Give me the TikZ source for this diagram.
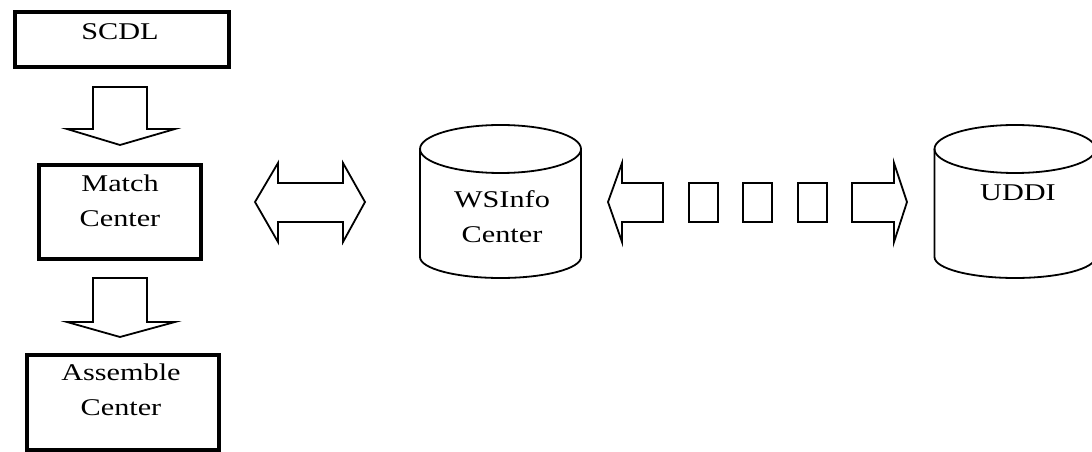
\documentclass[tikz,border=0pt]{standalone}
\usepackage{fontspec}
\setmainfont[FakeStretch=1.26]{Liberation Serif}

\begin{document}
\begin{tikzpicture}[x=1pt,y=1pt,
  box/.style={draw,line width=4pt,inner sep=0pt},
  txt/.style={font=\fontsize{24}{35}\selectfont,inner sep=0pt,align=center},
  blk/.style={draw,line width=1.8pt,line join=miter},
  cyl/.style={draw,line width=1.8pt}]
  \useasboundingbox (0,0) rectangle (1092,452);
  % left column
  \node[box,minimum width=214pt,minimum height=55pt] (scdl) at (122,412.5) {};
  \node[txt] (scdltxt) at (120,420) {SCDL};
  \node[box,minimum width=161.5pt,minimum height=94pt] (match) at (120,240) {};
  \node[txt] (matchtxt) at (120,251) {Match\\Center};
  \node[box,minimum width=191.5pt,minimum height=95pt] (assem) at (122.75,49.5) {};
  \node[txt] (assemtxt) at (121,62.5) {Assemble\\Center};
  \draw[blk] (93,365) -- (147,365) -- (147,323) -- (175,323) -- (120,307) -- (67,323) -- (93,323) -- cycle;
  \draw[blk] (93,174) -- (147,174) -- (147,130) -- (175,130) -- (120,115) -- (67,130) -- (93,130) -- cycle;
  % match <-> wsinfo
  \draw[blk] (255,250) -- (278,289) -- (278,269) -- (343,269) -- (343,289) -- (365,250)
    -- (343,210) -- (343,230) -- (278,230) -- (278,210) -- cycle;
  % WSInfo Center
  \draw[cyl] (420,303) -- (420,195) arc[start angle=180,end angle=360,x radius=80.5,y radius=21] -- (581,303);
  \draw[cyl] (500.5,303) ellipse[x radius=80.5,y radius=24];
  \node[txt] (wsinfo) at (502,235) {WSInfo\\Center};
  % wsinfo <-> uddi
  \draw[blk] (608,250) -- (622,289) -- (622,269) -- (663,269) -- (663,230) -- (622,230) -- (622,210) -- cycle;
  \foreach \x in {689,743,798}
    \draw[blk] (\x,230) rectangle ++(29,39);
  \draw[blk] (907,250) -- (894,289) -- (894,269) -- (852,269) -- (852,230) -- (894,230) -- (894,210) -- cycle;
  % UDDI
  \draw[cyl] (934.5,303) -- (934.5,195) arc[start angle=180,end angle=360,x radius=80.5,y radius=21] -- (1095.5,303);
  \draw[cyl] (1015,303) ellipse[x radius=80.5,y radius=24];
  \node[txt] (uddi) at (1018,259) {UDDI};
\end{tikzpicture}
\end{document}
